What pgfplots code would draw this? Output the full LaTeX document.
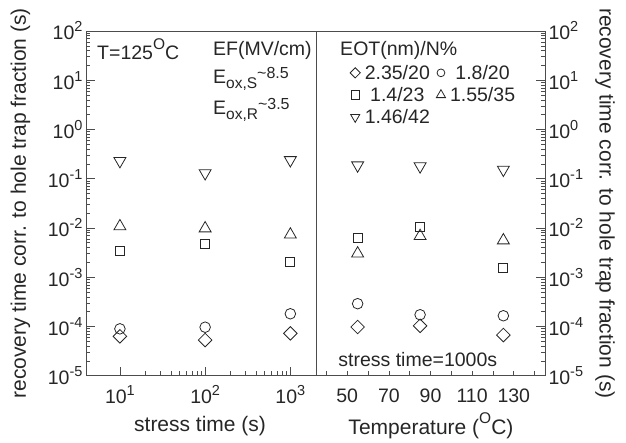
\documentclass[border=0pt]{standalone}
\usepackage{fontspec}
\setmainfont{Liberation Sans}
\usepackage{pgfplots}
\pgfplotsset{compat=1.18}
\definecolor{framegray}{gray}{0.3}
\newcommand{\sups}[1]{\raisebox{0.78ex}{\fontsize{14.5}{15}\selectfont #1}}
\newcommand{\subs}[1]{\raisebox{-0.45ex}{\fontsize{15.5}{16}\selectfont #1}}
\newcommand{\supa}[1]{\raisebox{0.95ex}{\fontsize{15.5}{16}\selectfont #1}}
\newcommand{\supb}[1]{\raisebox{0.5ex}{\fontsize{16}{16}\selectfont #1}}
\tikzset{
  mkdia/.style={only marks, mark=square, mark size=4.8pt, mark options={rotate=45, black!85, line width=0.8pt, fill=none}},
  mkcirc/.style={only marks, mark=o, mark size=5.3pt, mark options={black!85, line width=0.8pt}},
  mksq/.style={only marks, mark=square, mark size=4.5pt, mark options={black!85, line width=0.8pt, fill=none}},
  mktri/.style={only marks, mark=triangle, mark size=6.9pt, mark options={black!85, line width=0.8pt, fill=none}},
  mkdtri/.style={only marks, mark=triangle, mark size=6.9pt, mark options={rotate=180, black!85, line width=0.8pt, fill=none}},
  anntext/.style={font=\fontsize{19.5}{21}\selectfont, text=black!85, inner sep=0pt},
}
\begin{document}
\begin{tikzpicture}
\useasboundingbox (0,0) rectangle (626pt,442pt);
% left panel: stress time
\begin{axis}[
  scale only axis, height=344.7pt, width=230pt,
  at={(86pt,66.3pt)}, anchor=south west,
  xmode=log, ymode=log, ymin=1e-5, ymax=1e2, xmin=4, xmax=2000,
  ytick={1e-5,1e-4,1e-3,1e-2,1e-1,1e0,1e1,1e2},
  yticklabels={10\sups{-5},10\sups{-4},10\sups{-3},10\sups{-2},10\sups{-1},10\sups{0},10\sups{1},10\sups{2}},
  xtick={10,100,1000},
  xticklabels={10\sups{1},10\sups{2},10\sups{3}},
  tick align=inside, xtick pos=left, ytick pos=left,
  major tick length=9pt, minor tick length=4.5pt,
  axis line style={framegray, line width=0.8pt},
  tick style={framegray, line width=0.6pt},
  tick label style={font=\fontsize{19.5}{21}\selectfont, text=black!85},
  xticklabel style={yshift=-6pt},
  clip=false,
  xlabel={stress time (s)},
  ylabel={recovery time corr. to hole trap fraction (s)},
  every axis x label/.style={at={(axis description cs:0.496,-0.146)}, anchor=center, font=\fontsize{21}{23}\selectfont, text=black!85},
  every axis y label/.style={at={(axis description cs:-0.285,0.5)}, anchor=center, rotate=90, font=\fontsize{21}{23}\selectfont, text=black!85},
]
\addplot[mkdia]  coordinates {(10,6.3e-5) (100,5.3e-5) (1000,7.24e-5)};
\addplot[mkcirc] coordinates {(10,8.95e-5) (100,9.66e-5) (1000,1.81e-4)};
\addplot[mksq]   coordinates {(10,3.36e-3) (100,4.68e-3) (1000,2.01e-3)};
\addplot[mktri]  coordinates {(10,1.08e-2) (100,9.8e-3) (1000,7.33e-3)};
\addplot[mkdtri] coordinates {(10,0.229) (100,0.130) (1000,0.239)};
\node[anntext, anchor=base west] at (axis description cs:0.048,0.918) {T=125\supa{O}C};
\node[anntext, anchor=base west] at (axis description cs:0.552,0.930) {EF(MV/cm)};
\node[anntext, anchor=base west] at (axis description cs:0.552,0.848) {E\subs{ox,S}\supb{\textasciitilde8.5}};
\node[anntext, anchor=base west] at (axis description cs:0.552,0.757) {E\subs{ox,R}\supb{\textasciitilde3.5}};
\end{axis}
% right panel: temperature
\begin{axis}[
  scale only axis, height=344.7pt, width=229pt,
  at={(316pt,66.3pt)}, anchor=south west,
  ymode=log, ymin=1e-5, ymax=1e2, xmin=35, xmax=145,
  ytick={1e-5,1e-4,1e-3,1e-2,1e-1,1e0,1e1,1e2},
  yticklabels={10\sups{-5},10\sups{-4},10\sups{-3},10\sups{-2},10\sups{-1},10\sups{0},10\sups{1},10\sups{2}},
  xtick={50,70,90,110,130},
  xticklabels={50,70,90,110,130},
  minor xtick={40,50,...,140},
  major x tick style={draw=none},
  tick align=inside, xtick pos=left, ytick pos=right, yticklabel pos=right,
  major tick length=9pt, minor tick length=4.5pt,
  axis line style={framegray, line width=0.8pt},
  tick style={framegray, line width=0.6pt},
  tick label style={font=\fontsize{19.5}{21}\selectfont, text=black!85},
  xticklabel style={yshift=-10pt},
  clip=false,
  xlabel={Temperature (\supa{O}C)},
  ylabel={recovery time corr. to hole trap fraction (s)},
  every axis x label/.style={at={(axis description cs:0.502,-0.146)}, anchor=center, font=\fontsize{21}{23}\selectfont, text=black!85},
  every axis y label/.style={at={(axis description cs:1.262,0.5)}, anchor=center, rotate=-90, font=\fontsize{21}{23}\selectfont, text=black!85},
  legend columns=2,
  legend image code/.code={\draw[mark repeat=2,mark phase=2,#1] plot coordinates {(0pt,0pt) (5pt,0pt) (10pt,0pt)};},
  legend style={at={(axis description cs:0.135,0.912)}, anchor=north west, draw=none, fill=none,
    font=\fontsize{19.5}{21}\selectfont, text=black!85, row sep=3.5pt,
    nodes={inner sep=1.5pt},
    /tikz/every odd column/.append style={column sep=3pt},
    /tikz/every even column/.append style={column sep=5pt}},
]
\addplot[mkdia, legend image post style={mark size=3.6pt}]  coordinates {(55,9.75e-5) (85,1.03e-4) (125,6.7e-5)};
\addlegendentry{2.35/20}
\addplot[mkcirc, legend image post style={mark size=3.9pt}] coordinates {(55,2.9e-4) (85,1.73e-4) (125,1.65e-4)};
\addlegendentry{1.8/20}
\addplot[mksq, legend image post style={mark size=4.1pt}]   coordinates {(55,6.25e-3) (85,1.03e-2) (125,1.58e-3)};
\addlegendentry{1.4/23}
\addplot[mktri, legend image post style={mark size=5.3pt}]  coordinates {(55,3.03e-3) (85,6.84e-3) (125,5.59e-3)};
\addlegendentry{1.55/35}
\addplot[mkdtri, legend image post style={mark size=5.3pt}] coordinates {(55,0.187) (85,0.179) (125,0.153)};
\addlegendentry{1.46/42}
\node[anntext, anchor=base west] at (axis description cs:0.105,0.930) {EOT(nm)/N\%};
\node[anntext, anchor=base west] at (axis description cs:0.097,0.026) {stress time=1000s};
\end{axis}
\end{tikzpicture}
\end{document}
